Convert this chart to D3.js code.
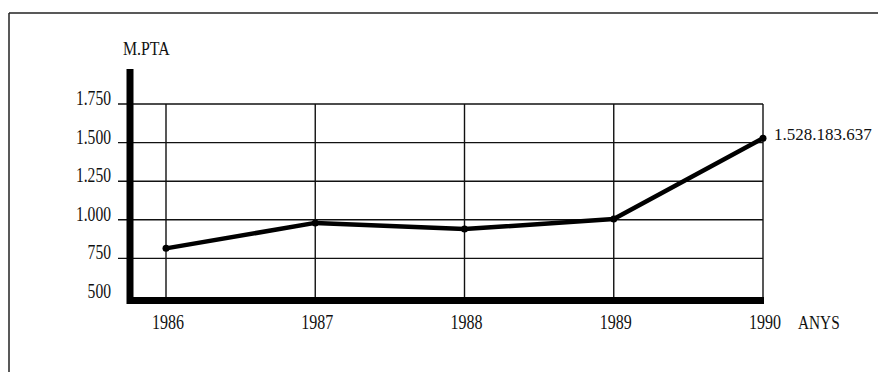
<!DOCTYPE html>
<html>
<head>
<meta charset="utf-8">
<script src="https://cdn.jsdelivr.net/npm/d3@7"></script>
<style>
  body { margin: 0; background: #fff; }
  text { font-family: "Liberation Serif", serif; fill: #111; }
</style>
</head>
<body>
<script>
// data (millions of pesetas)
var years = [1986, 1987, 1988, 1989, 1990];
var values = [815, 980, 940, 1005, 1528];
var yTicks = [500, 750, 1000, 1250, 1500, 1750];
var yTickLabels = ["500", "750", "1.000", "1.250", "1.500", "1.750"];
var lastLabel = "1.528.183.637";

var width = 878, height = 372;

var x = d3.scaleLinear()
  .domain([1986, 1990])
  .range([166, 763]);

var y = d3.scaleLinear()
  .domain([500, 1750])
  .range([297, 104]);

var svg = d3.select("body")
  .append("svg")
  .attr("width", width)
  .attr("height", height);

// squeeze text horizontally, the original face is condensed
function condense(sel, k) {
  sel.each(function() {
    var w = this.getComputedTextLength();
    d3.select(this)
      .attr("textLength", w * k)
      .attr("lengthAdjust", "spacingAndGlyphs");
  });
}

/* frame */
svg.append("line")
  .attr("x1", 9).attr("x2", width)
  .attr("y1", 13).attr("y2", 13)
  .style("stroke", "#222").style("stroke-width", 1.5);
svg.append("line")
  .attr("x1", 9).attr("x2", 9)
  .attr("y1", 13).attr("y2", height)
  .style("stroke", "#222").style("stroke-width", 1.5);

/* horizontal grid */
svg.append("g")
  .selectAll("line")
  .data(yTicks.slice(1))
  .enter()
  .append("line")
  .attr("x1", 118)
  .attr("x2", x(1990))
  .attr("y1", d => y(d))
  .attr("y2", d => y(d))
  .style("stroke", "#111")
  .style("stroke-width", 1.4);

/* vertical grid */
svg.append("g")
  .selectAll("line")
  .data(years)
  .enter()
  .append("line")
  .attr("x1", d => x(d))
  .attr("x2", d => x(d))
  .attr("y1", y(1750))
  .attr("y2", y(500))
  .style("stroke", "#111")
  .style("stroke-width", 1.4);

/* thick axes */
svg.append("line")
  .attr("x1", 130).attr("x2", 130)
  .attr("y1", 69).attr("y2", y(500) + 7)
  .style("stroke", "#000").style("stroke-width", 7);
svg.append("line")
  .attr("x1", 127).attr("x2", x(1990) + 1)
  .attr("y1", y(500) + 3.5).attr("y2", y(500) + 3.5)
  .style("stroke", "#000").style("stroke-width", 7);

/* y labels */
svg.append("g")
  .selectAll("text")
  .data(yTicks)
  .enter()
  .append("text")
  .attr("x", 111)
  .attr("y", d => y(d) + 1)
  .attr("text-anchor", "end")
  .style("font-size", "20px")
  .text((d, i) => yTickLabels[i])
  .call(condense, 0.78);

/* x labels */
svg.append("g")
  .selectAll("text")
  .data(years)
  .enter()
  .append("text")
  .attr("x", d => x(d) + 2)
  .attr("y", 329)
  .attr("text-anchor", "middle")
  .style("font-size", "20px")
  .text(d => d)
  .call(condense, 0.8);

svg.append("text")
  .attr("x", 798)
  .attr("y", 329)
  .style("font-size", "18px")
  .text("ANYS")
  .call(condense, 0.85);

svg.append("text")
  .attr("x", 123)
  .attr("y", 55)
  .style("font-size", "18px")
  .text("M.PTA")
  .call(condense, 0.88);

/* line */
var pts = years.map((d, i) => [d, values[i]]);
svg.append("path")
  .datum(pts)
  .attr("d", d3.line().x(d => x(d[0])).y(d => y(d[1])))
  .style("fill", "none")
  .style("stroke", "#000")
  .style("stroke-width", 4.5)
  .style("stroke-linejoin", "round");

svg.append("g")
  .selectAll("circle")
  .data(pts)
  .enter()
  .append("circle")
  .attr("cx", d => x(d[0]))
  .attr("cy", d => y(d[1]))
  .attr("r", 3.5)
  .style("fill", "#000");

svg.append("text")
  .attr("x", 774)
  .attr("y", 140)
  .style("font-size", "17px")
  .text(lastLabel);
</script>
</body>
</html>
